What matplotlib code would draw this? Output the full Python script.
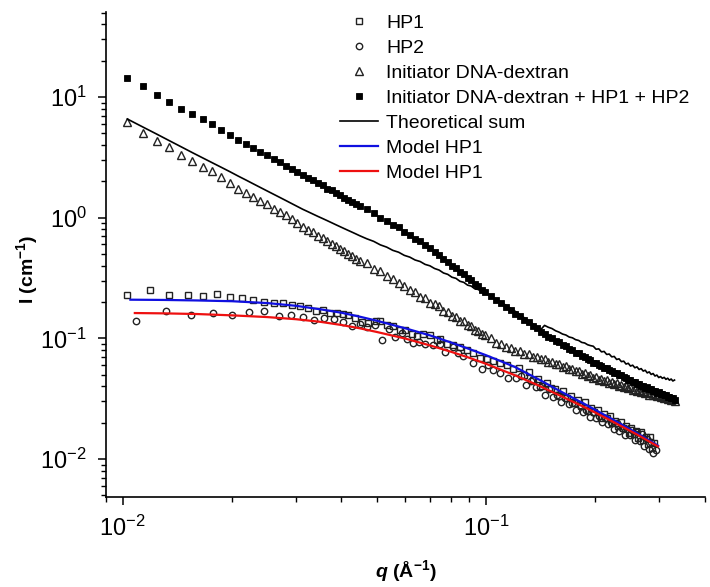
import matplotlib
matplotlib.use('Agg')
import matplotlib.pyplot as plt
from matplotlib.ticker import LogLocator, NullFormatter

plt.rcParams['font.family'] = ['Liberation Sans', 'DejaVu Sans']
plt.rcParams['mathtext.fontset'] = 'custom'
plt.rcParams['mathtext.rm'] = 'Liberation Sans'
plt.rcParams['mathtext.it'] = 'Liberation Sans:italic'
plt.rcParams['mathtext.bf'] = 'Liberation Sans:bold'
plt.rcParams['mathtext.bfit'] = 'Liberation Sans:bold:italic'
plt.rcParams['mathtext.default'] = 'regular'

# ---------------- data ----------------
labels = ["HP1", "HP2", "Initiator DNA-dextran",
          "Initiator DNA-dextran + HP1 + HP2", "Theoretical sum",
          "Model HP1", "Model HP1"]

# HP1 (open squares)
q_hp1_low = [0.0103, 0.0119, 0.0134, 0.0151, 0.0166, 0.0182, 0.0197, 0.0213, 0.0229, 0.0245,
             0.0261, 0.0277, 0.0292, 0.0308, 0.0324, 0.0341, 0.0355, 0.0372, 0.0388, 0.0405,
             0.0418, 0.0436, 0.0455, 0.0473, 0.0498, 0.0511, 0.0533, 0.0556, 0.0580, 0.0598,
             0.0624, 0.0644, 0.0672, 0.0702, 0.0732, 0.0745, 0.0780, 0.0813, 0.0848, 0.0885,
             0.0923, 0.0963, 0.1005, 0.1049, 0.1094, 0.1141, 0.1189]
I_hp1_low = [0.228, 0.250, 0.228, 0.229, 0.224, 0.235, 0.219, 0.214, 0.206, 0.200,
             0.198, 0.196, 0.189, 0.187, 0.179, 0.167, 0.173, 0.163, 0.161, 0.159,
             0.156, 0.146, 0.137, 0.134, 0.140, 0.139, 0.128, 0.127, 0.118, 0.117,
             0.109, 0.105, 0.109, 0.106, 0.096, 0.098, 0.089, 0.088, 0.084, 0.080,
             0.075, 0.069, 0.068, 0.065, 0.062, 0.060, 0.056]
q_hp1_high = [0.123, 0.127, 0.131, 0.135, 0.139, 0.143, 0.147, 0.151, 0.155, 0.159,
              0.163, 0.167, 0.171, 0.175, 0.179, 0.183, 0.187, 0.191, 0.195, 0.199,
              0.203, 0.207, 0.211, 0.215, 0.219, 0.223, 0.227, 0.231, 0.235, 0.239,
              0.243, 0.247, 0.251, 0.255, 0.259, 0.263, 0.267, 0.271, 0.275, 0.279,
              0.283, 0.287, 0.291]
I_hp1_high = [0.0568, 0.0492, 0.0523, 0.0455, 0.0461, 0.0401, 0.0429, 0.0384, 0.0383, 0.0335,
              0.0367, 0.0322, 0.0333, 0.0293, 0.0306, 0.0276, 0.0296, 0.0251, 0.0264, 0.0243,
              0.0254, 0.0219, 0.0237, 0.0217, 0.0227, 0.0198, 0.0206, 0.0189, 0.0201, 0.0180,
              0.0186, 0.0165, 0.0182, 0.0162, 0.0170, 0.0148, 0.0167, 0.0144, 0.0152, 0.0133,
              0.0151, 0.0124, 0.0135]

# HP2 (open circles)
q_hp2_low = [0.01088, 0.01316, 0.01539, 0.01769, 0.0200, 0.02227, 0.02448, 0.02687, 0.02905, 0.0313,
             0.03363, 0.0359, 0.03816, 0.04047, 0.04276, 0.04499, 0.04712, 0.04957, 0.05173, 0.05395,
             0.05626, 0.05872, 0.06073, 0.0631, 0.06527, 0.0679, 0.0716, 0.0747, 0.0771, 0.0813,
             0.0839, 0.0866, 0.0923, 0.0973, 0.1015, 0.1049, 0.1094, 0.1151]
I_hp2_low = [0.139, 0.168, 0.155, 0.162, 0.156, 0.164, 0.169, 0.153, 0.157, 0.149,
             0.141, 0.147, 0.145, 0.136, 0.126, 0.132, 0.124, 0.128, 0.096, 0.120,
             0.103, 0.111, 0.098, 0.091, 0.094, 0.089, 0.088, 0.090, 0.077, 0.085,
             0.076, 0.072, 0.062, 0.056, 0.060, 0.055, 0.052, 0.047]
q_hp2_high = [0.121, 0.125, 0.129, 0.133, 0.137, 0.141, 0.145, 0.149, 0.153, 0.157,
              0.161, 0.165, 0.169, 0.173, 0.177, 0.181, 0.185, 0.189, 0.193, 0.197,
              0.201, 0.205, 0.209, 0.213, 0.217, 0.221, 0.225, 0.229, 0.233, 0.237,
              0.241, 0.245, 0.249, 0.253, 0.257, 0.261, 0.265, 0.269, 0.273, 0.277,
              0.281, 0.285, 0.289, 0.293]
I_hp2_high = [0.0470, 0.0486, 0.0414, 0.0446, 0.0394, 0.0397, 0.0342, 0.0378, 0.0326, 0.0341,
              0.0299, 0.0321, 0.0286, 0.0291, 0.0256, 0.0282, 0.0247, 0.0256, 0.0222, 0.0246,
              0.0220, 0.0229, 0.0201, 0.0220, 0.0194, 0.0201, 0.0178, 0.0199, 0.0172, 0.0182,
              0.0157, 0.0178, 0.0157, 0.0173, 0.0144, 0.0167, 0.0140, 0.0162, 0.0128, 0.0146,
              0.0120, 0.0137, 0.0112, 0.0118]

# common q grid of the dextran, mixture and theoretical-sum curves
q_dex = [0.0103, 0.01135, 0.0124, 0.01345, 0.0145, 0.01555, 0.0166, 0.01765, 0.0187, 0.01975,
         0.0208, 0.02185, 0.0229, 0.02395, 0.025, 0.02605, 0.0271, 0.02815, 0.0292, 0.03025,
         0.0313, 0.03235, 0.0334, 0.03445, 0.0355, 0.03655, 0.0376, 0.03865, 0.0397, 0.04075,
         0.0418, 0.04285, 0.0439, 0.04495,
         0.047, 0.0491, 0.0512, 0.0533, 0.0554, 0.0575, 0.0596, 0.0617, 0.0638, 0.0659,
         0.068, 0.0701, 0.0722, 0.0743, 0.0764, 0.0785, 0.0806, 0.0827, 0.0848, 0.0869,
         0.089, 0.0911, 0.0932, 0.0953, 0.0974, 0.0995,
         0.103, 0.1065, 0.11, 0.1135, 0.117, 0.1205, 0.124, 0.1275, 0.131, 0.1345,
         0.138, 0.1415, 0.145, 0.1485, 0.152, 0.1555, 0.159, 0.1625, 0.166, 0.1695,
         0.173, 0.1765, 0.18, 0.1835, 0.187, 0.1905, 0.194, 0.1975, 0.201, 0.2045,
         0.208, 0.2115, 0.215, 0.2185, 0.222, 0.2255, 0.229, 0.2325, 0.236, 0.2395,
         0.243, 0.2465, 0.25, 0.2535, 0.257, 0.2605, 0.264, 0.2675, 0.271, 0.2745,
         0.278, 0.2815, 0.285, 0.2885, 0.292, 0.2955, 0.299, 0.3025, 0.306, 0.3095,
         0.313, 0.3165, 0.32, 0.3235, 0.327, 0.3305]

I_dex = [6.17, 5.00, 4.34, 3.85, 3.28, 2.93, 2.64, 2.42, 2.16, 1.92,
         1.73, 1.61, 1.48, 1.37, 1.29, 1.19, 1.12, 1.05, 0.977, 0.897,
         0.842, 0.795, 0.755, 0.709, 0.673, 0.642, 0.605, 0.578, 0.546, 0.525,
         0.500, 0.478, 0.457, 0.440,
         0.418, 0.379, 0.360, 0.327, 0.312, 0.285, 0.274, 0.250, 0.243, 0.222,
         0.216, 0.198, 0.193, 0.184, 0.169, 0.165, 0.153, 0.150, 0.140, 0.138,
         0.128, 0.126, 0.117, 0.116, 0.108, 0.107,
         0.100, 0.0918, 0.0893, 0.0842, 0.0838, 0.0790, 0.0786, 0.0746, 0.0742, 0.0705,
         0.0702, 0.0668, 0.0669, 0.0638, 0.0640, 0.0608, 0.0611, 0.0583, 0.0585, 0.0556,
         0.0559, 0.0531, 0.0536, 0.0508, 0.0513, 0.0487, 0.0493, 0.0470, 0.0476, 0.0455,
         0.0462, 0.0441, 0.0449, 0.0429, 0.0437, 0.0418, 0.0426, 0.0406, 0.0414, 0.0396,
         0.0404, 0.0387, 0.0393, 0.0375, 0.0383, 0.0365, 0.0373, 0.0356, 0.0364, 0.0349,
         0.0357, 0.0342, 0.0351, 0.0336, 0.0345, 0.0330, 0.0339, 0.0325, 0.0333, 0.0319,
         0.0328, 0.0314, 0.0322, 0.0309, 0.0317, 0.0305]

I_mix = [14.3, 12.3, 10.45, 9.03, 8.0, 7.18, 6.53, 5.93, 5.32, 4.84,
         4.40, 4.07, 3.78, 3.50, 3.28, 3.06, 2.87, 2.68, 2.55, 2.38,
         2.27, 2.13, 2.04, 1.92, 1.85, 1.74, 1.68, 1.59, 1.54, 1.46,
         1.41, 1.34, 1.30, 1.24,
         1.17, 1.09, 1.00, 0.945, 0.875, 0.830, 0.766, 0.724, 0.670, 0.637,
         0.591, 0.563, 0.522, 0.494, 0.456, 0.433, 0.401, 0.382, 0.355, 0.339,
         0.316, 0.302, 0.281, 0.269, 0.251, 0.241,
         0.225, 0.206, 0.197, 0.181, 0.173, 0.160, 0.153, 0.141, 0.136, 0.126,
         0.121, 0.113, 0.109, 0.102, 0.100, 0.0945, 0.0925, 0.0877, 0.0859, 0.0816,
         0.0801, 0.0762, 0.0750, 0.0714, 0.0703, 0.0670, 0.0661, 0.0630, 0.0624, 0.0598,
         0.0593, 0.0569, 0.0565, 0.0542, 0.0540, 0.0518, 0.0515, 0.0496, 0.0493, 0.0475,
         0.0473, 0.0455, 0.0454, 0.0437, 0.0436, 0.0420, 0.0419, 0.0403, 0.0404, 0.0390,
         0.0392, 0.0378, 0.0379, 0.0366, 0.0368, 0.0355, 0.0357, 0.0345, 0.0347, 0.0336,
         0.0337, 0.0327, 0.0328, 0.0318, 0.0320, 0.0310]

I_sum = [6.57, 5.65, 4.93, 4.34, 3.86, 3.46, 3.13, 2.85, 2.61, 2.40,
         2.21, 2.05, 1.905, 1.777, 1.663, 1.561, 1.469, 1.385, 1.308, 1.238,
         1.174, 1.121, 1.071, 1.025, 0.984, 0.945, 0.908, 0.873, 0.841, 0.811,
         0.783, 0.757, 0.732, 0.708,
         0.668, 0.636, 0.595, 0.570, 0.536, 0.517, 0.487, 0.471, 0.446, 0.433,
         0.410, 0.399, 0.379, 0.368, 0.348, 0.339, 0.321, 0.314, 0.297, 0.291,
         0.276, 0.271, 0.257, 0.254, 0.241, 0.238,
         0.226, 0.211, 0.199, 0.188, 0.177, 0.167, 0.157, 0.148, 0.140, 0.132,
         0.125, 0.118, 0.128, 0.1235, 0.1205, 0.1155, 0.1125, 0.1085, 0.1065, 0.1025,
         0.101, 0.0975, 0.096, 0.0925, 0.0915, 0.0885, 0.087, 0.086, 0.0812, 0.0818,
         0.0772, 0.0779, 0.0735, 0.0741, 0.0702, 0.0708, 0.0668, 0.0676, 0.0641, 0.0647,
         0.0612, 0.0621, 0.0589, 0.0599, 0.0570, 0.0580, 0.0552, 0.0561, 0.0535, 0.0544,
         0.0517, 0.0527, 0.0502, 0.0511, 0.0487, 0.0496, 0.0473, 0.0482, 0.0466, 0.0475,
         0.0457, 0.0467, 0.0450, 0.0460, 0.0443, 0.0451]

# model curves
q_model_blue = [0.0105, 0.013, 0.016, 0.02, 0.025, 0.03, 0.035, 0.04, 0.045, 0.05, 0.06,
                0.07, 0.08, 0.09, 0.1, 0.12, 0.14, 0.16, 0.19, 0.22, 0.26, 0.2976]
I_model_blue = [0.209, 0.208, 0.206, 0.203, 0.196, 0.186, 0.174, 0.163, 0.151, 0.140, 0.121,
                0.106, 0.0925, 0.0815, 0.0725, 0.058, 0.0455, 0.0365, 0.0278, 0.0218, 0.0164, 0.0129]
q_model_red = [0.0108, 0.013, 0.016, 0.02, 0.025, 0.03, 0.035, 0.04, 0.045, 0.05, 0.06,
               0.07, 0.08, 0.09, 0.1, 0.12, 0.14, 0.16, 0.19, 0.22, 0.26, 0.2976]
I_model_red = [0.162, 0.161, 0.159, 0.155, 0.150, 0.144, 0.137, 0.129, 0.121, 0.113, 0.0995,
               0.0875, 0.0775, 0.0690, 0.0615, 0.0495, 0.0405, 0.0335, 0.0262, 0.0209, 0.0160, 0.0127]

# ---------------- figure ----------------
fig = plt.figure(figsize=(7.1, 5.87), dpi=100)
ax = fig.add_axes([0.1489, 0.1533, 0.8441, 0.8262])

mk = '#222222'
ax.plot(q_hp1_low + q_hp1_high, I_hp1_low + I_hp1_high, linestyle='none', marker='s',
        ms=4.2, mfc='none', mec=mk, mew=1.0, label=labels[0])
ax.plot(q_hp2_low + q_hp2_high, I_hp2_low + I_hp2_high, linestyle='none', marker='o',
        ms=4.6, mfc='none', mec=mk, mew=1.0, label=labels[1])
ax.plot(q_dex, I_dex, linestyle='none', marker='^', ms=5.8, mfc='none', mec=mk, mew=1.0,
        label=labels[2])
ax.plot(q_dex, I_mix, linestyle='none', marker='s', ms=4.4, mfc='black', mec='black', mew=0.6,
        label=labels[3])
ax.plot(q_dex, I_sum, color='black', lw=1.2, label=labels[4])
ax.plot(q_model_blue, I_model_blue, color='#1010e0', lw=1.6, label=labels[5])
ax.plot(q_model_red, I_model_red, color='#ee1010', lw=1.6, label=labels[6])

ax.set_xscale('log')
ax.set_yscale('log')
ax.set_xlim(0.00898, 0.401)
ax.set_ylim(0.00484, 50.6)

ax.xaxis.set_major_locator(LogLocator(base=10, numticks=10))
ax.yaxis.set_major_locator(LogLocator(base=10, numticks=10))
ax.xaxis.set_minor_locator(LogLocator(base=10, subs=[2, 3, 4, 5, 6, 7, 8, 9], numticks=20))
ax.yaxis.set_minor_locator(LogLocator(base=10, subs=[2, 3, 4, 5, 6, 7, 8, 9], numticks=20))
ax.xaxis.set_minor_formatter(NullFormatter())
ax.yaxis.set_minor_formatter(NullFormatter())

for s in ['top', 'right']:
    ax.spines[s].set_visible(False)
for s in ['left', 'bottom']:
    ax.spines[s].set_linewidth(1.2)

ax.tick_params(which='major', direction='out', length=5.5, width=1.1, labelsize=17, pad=8)
ax.tick_params(which='minor', direction='out', length=3.5, width=1.0)

ax.set_ylabel('I (cm$^{-1}$)', fontsize=14, fontweight='bold')
ax.yaxis.set_label_coords(-0.11, 0.47)
ax.set_xlabel(r'$\mathbfit{q}$ (Å$^{-1}$)', fontsize=14, fontweight='bold')
ax.xaxis.set_label_coords(0.5, -0.125)

ax.legend(loc='upper left', bbox_to_anchor=(340 / 710, 0.975), bbox_transform=fig.transFigure,
          frameon=False, fontsize=14, handlelength=1.95, handletextpad=0.42,
          labelspacing=0.38, borderpad=0, borderaxespad=0, numpoints=1)

try:
    fig.savefig('out.png', dpi=100)
except Exception:
    ax.set_xlabel('q (Å$^{-1}$)', fontsize=14, fontweight='bold', fontstyle='italic')
    ax.xaxis.set_label_coords(0.5, -0.125)
    fig.savefig('out.png', dpi=100)
